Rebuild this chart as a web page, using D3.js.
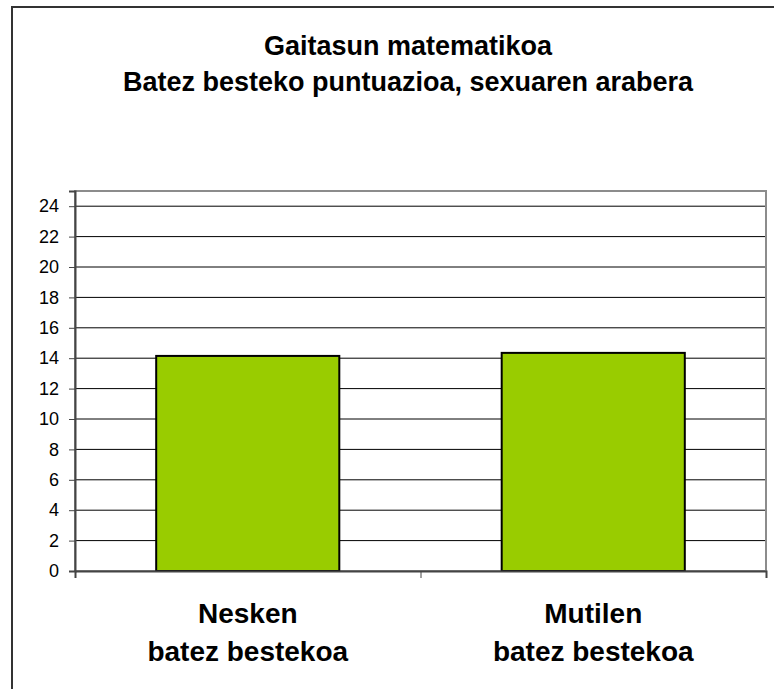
<!DOCTYPE html>
<html><head><meta charset="utf-8">
<script src="https://cdn.jsdelivr.net/npm/d3@7"></script>
<style>body{margin:0;background:#fff;} svg{display:block;}</style>
</head><body>
<svg id="chart" width="774" height="689"></svg>
<script>
const titleLines = ["Gaitasun matematikoa", "Batez besteko puntuazioa, sexuaren arabera"];
const categories = ["Nesken batez bestekoa", "Mutilen batez bestekoa"];
const categoryLines = [["Nesken", "batez bestekoa"], ["Mutilen", "batez bestekoa"]];
const values = [14.15, 14.35];
const yTicks = [0, 2, 4, 6, 8, 10, 12, 14, 16, 18, 20, 22, 24];
const yMax = 25;

const svg = d3.select("#chart");
const font = "'Liberation Sans', Arial, sans-serif";

// outer frame
svg.append("rect").attr("x", 12).attr("y", 7).attr("width", 800).attr("height", 720)
  .attr("fill", "none").attr("stroke", "#333").attr("stroke-width", 2);

const L = 75, R = 766, T = 191, B = 571;
const x = d3.scaleBand().domain(categories).range([L, R]).paddingInner(0.47).paddingOuter(0.235);
const y = d3.scaleLinear().domain([0, yMax]).range([B, T]);

// gridlines
svg.append("g").selectAll("line").data(yTicks.filter(d => d > 0)).join("line")
  .attr("x1", L).attr("x2", R).attr("y1", d => y(d)).attr("y2", d => y(d))
  .attr("stroke", "#000").attr("stroke-width", 1);

// plot border
svg.append("rect").attr("x", L).attr("y", T).attr("width", R - L).attr("height", B - T)
  .attr("fill", "none").attr("stroke", "#8c8c8c").attr("stroke-width", 2);

// bars
svg.append("g").selectAll("rect").data(values).join("rect")
  .attr("x", (d, i) => x(categories[i])).attr("width", x.bandwidth())
  .attr("y", d => y(d)).attr("height", d => B - y(d))
  .attr("fill", "#99cc00").attr("stroke", "#000").attr("stroke-width", 2);

// y axis
const yAxis = d3.axisLeft(y).tickValues(yTicks).tickSize(6).tickPadding(10);
const gy = svg.append("g").attr("transform", `translate(${L},0)`).call(yAxis);
gy.select(".domain").attr("stroke", "#444").attr("stroke-width", 2);
gy.selectAll(".tick line").attr("stroke", "#444");
gy.selectAll("text").attr("font-family", font).attr("font-size", 18).attr("fill", "#000");

// x axis
const xb = d3.scaleLinear().domain([0, categories.length]).range([L, R]);
const xAxis = d3.axisBottom(xb).tickValues(d3.range(categories.length + 1)).tickSize(7).tickFormat("");
const gx = svg.append("g").attr("transform", `translate(0,${B})`).call(xAxis);
gx.select(".domain").attr("stroke", "#444").attr("stroke-width", 2);
gx.selectAll(".tick line").attr("stroke", "#444");

// category labels
categoryLines.forEach((lines, i) => {
  const cx = x(categories[i]) + x.bandwidth() / 2;
  lines.forEach((t, j) => {
    svg.append("text").attr("x", cx).attr("y", 623 + j * 38)
      .attr("text-anchor", "middle").attr("font-family", font)
      .attr("font-size", 28).attr("font-weight", "bold").text(t);
  });
});

// title
titleLines.forEach((t, j) => {
  svg.append("text").attr("x", 408).attr("y", 55 + j * 36)
    .attr("text-anchor", "middle").attr("font-family", font)
    .attr("font-size", 27).attr("font-weight", "bold").text(t);
});
</script>
</body></html>
